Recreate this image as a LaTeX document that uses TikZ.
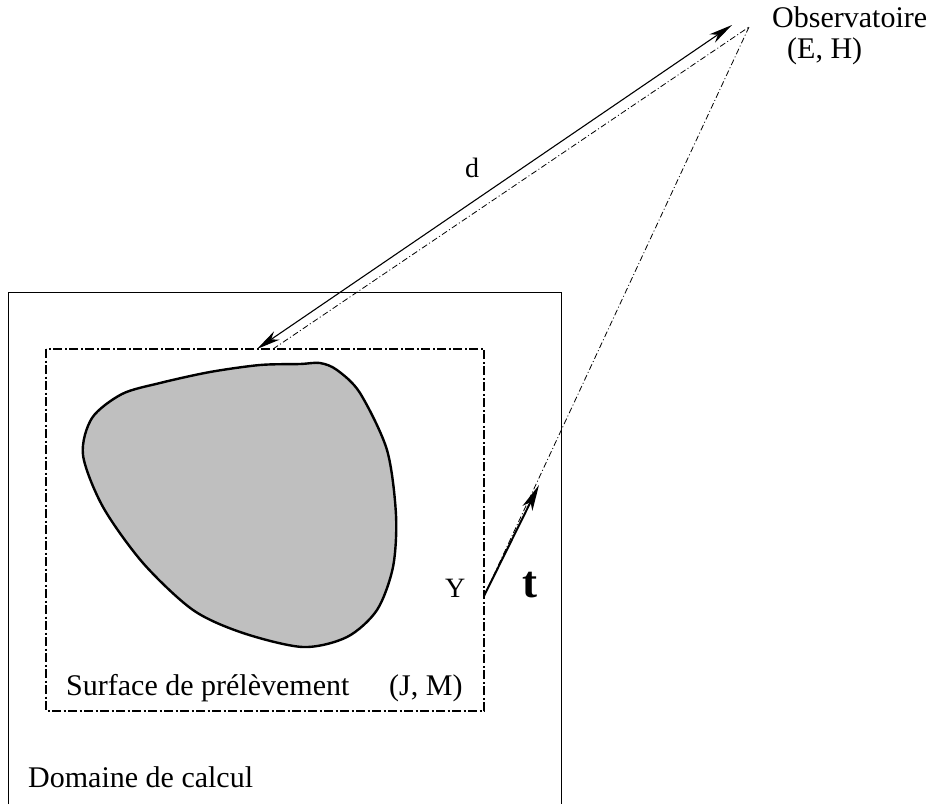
\documentclass[tikz,border=0pt]{standalone}
\usepackage{fontspec}
\setmainfont{Liberation Serif}
\usetikzlibrary{arrows.meta}
\definecolor{blobgray}{RGB}{191,191,191}
\tikzset{
  domainline/.style={line width=0.9pt, black},
  surfline/.style={line width=2.2pt, dash pattern=on 9pt off 2.5pt on 2pt off 2.5pt},
  rayline/.style={line width=0.8pt, dash pattern=on 6pt off 2.5pt on 1pt off 2.5pt},
  lbl/.style={anchor=base west, inner sep=0pt, font=\fontsize{30}{36}\selectfont},
}
\begin{document}
\begin{tikzpicture}[x=1pt, y=-1pt]
\useasboundingbox (0,0) rectangle (929,804);
% domain
\draw[domainline] (8,804) -- (8,292) -- (561,292) -- (561,804);
% sampling surface
\draw[surfline] (46,349) rectangle (484,711);
% object
\draw[line width=2.4pt, fill=blobgray] plot[smooth cycle, tension=0.5] coordinates {
 (320,363) (337,370) (360,393) (387,450) (396,515) (393,567) (377,610) (347,637)
 (303,647) (243,633) (193,610) (143,563) (103,507) (83,455) (92,418) (122,394)
 (160,383) (210,372) (260,365) (300,364)};
% points
\coordinate (O) at (749,27);
\coordinate (Y) at (484,596);
\coordinate (S) at (273,349);
\coordinate (A1) at (257,349);
\coordinate (A2) at (732,25);
\coordinate (T) at (539,485);
% rays
\draw[rayline] (S) -- (O);
\draw[rayline] (O) -- (Y);
% distance arrow
\draw[line width=1.1pt, {Stealth[length=24pt, width=10pt, inset=7pt]}-{Stealth[length=24pt, width=10pt, inset=7pt]}] (A1) -- (A2);
% t arrow
\draw[line width=2pt, -{Stealth[length=26pt, width=11pt, inset=7pt]}] (Y) -- (T);
% labels
\node[lbl] (obs) at (772,27) {Observatoire};
\node[lbl] (eh) at (787,58) {(E, H)};
\node[lbl, font=\fontsize{28}{34}\selectfont] (d) at (465,177) {d};
\node[lbl, font=\fontsize{28}{34}\selectfont] (ylab) at (445,597) {Y};
\node[lbl, font=\fontsize{45}{54}\selectfont\bfseries] (tlab) at (522,597) {t};
\node[lbl] (surf) at (66,695) {Surface de prélèvement};
\node[lbl] (jm) at (389,695) {(J, M)};
\node[lbl] (dom) at (28,787) {Domaine de calcul};
\end{tikzpicture}
\end{document}
